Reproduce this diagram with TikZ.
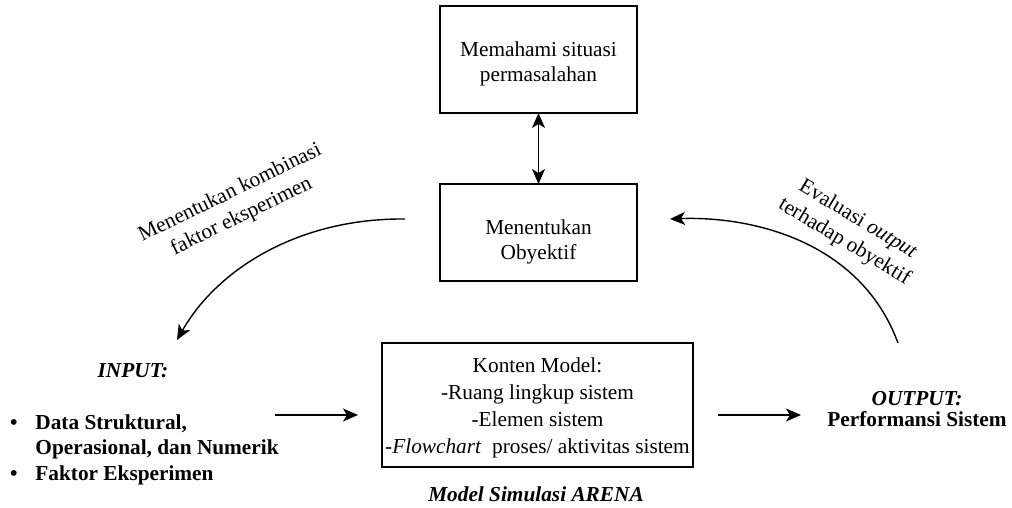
\documentclass[tikz,border=0pt]{standalone}
\usepackage{fontspec}
\setmainfont{Liberation Serif}
\usetikzlibrary{arrows.meta}
% centred block of lines with extra room on top, so it sits lower in its box
\newcommand\lowertext[2]{\raisebox{0pt}[\dimexpr\height+#1\relax][\depth]{%
  \begin{tabular}{@{}c@{}}#2\end{tabular}}}
\begin{document}
\begin{tikzpicture}[x=1pt,y=-1pt,
  every node/.style={inner sep=0pt, outer sep=0pt},
  txt/.style={font=\fontsize{21.3}{25}\selectfont, align=center},
  stepbox/.style={draw, line width=1.4pt, txt},
  tip/.style={},
  arr/.style={line width=1.4pt, -{Stealth[length=15pt,width=13pt,inset=4pt]}},
  biarr/.style={line width=1.4pt, {Stealth[length=15pt,width=13pt,inset=4pt]}-{Stealth[length=15pt,width=13pt,inset=4pt]}},
]
\useasboundingbox (0,0) rectangle (1012,508);

% process boxes
\node[stepbox, minimum width=197pt, minimum height=107pt] (situasi) at (538.5,59.5)
  {\lowertext{10pt}{Memahami situasi\\permasalahan}};
\node[stepbox, minimum width=197pt, minimum height=97pt] (obyektif) at (538.5,232.5)
  {\lowertext{18pt}{Menentukan\\Obyektif}};
\node[stepbox, minimum width=311pt, minimum height=124pt,
      font=\fontsize{21.3}{27}\selectfont] (model) at (537.5,405)
  {\lowertext{5pt}{Konten Model:\\-Ruang lingkup sistem\\-Elemen sistem\\
   -\textit{Flowchart}\ \ proses/ aktivitas sistem}};
\node[txt, font=\fontsize{21.3}{25}\selectfont\bfseries\itshape, anchor=base]
  (arena) at (536,501) {Model Simulasi ARENA};

% input side
\node[txt, font=\fontsize{21.3}{25}\selectfont\bfseries\itshape, anchor=base]
  (input) at (133,377) {INPUT:};
\node[font=\fontsize{21.3}{25.5}\selectfont\bfseries, anchor=base west] (inlist) at (10,429)
  {\begin{tabular}[t]{@{}l@{\hspace{18pt}}l@{}}
     \textbullet & Data Struktural,\\
                 & Operasional, dan Numerik\\
     \textbullet & Faktor Eksperimen
   \end{tabular}};

% output side
\node[txt, font=\fontsize{21.3}{21}\selectfont\bfseries, anchor=base] (output) at (917,426)
  {\textit{OUTPUT:}\\Performansi Sistem};

% curve labels
\node[txt, font=\fontsize{21.3}{26}\selectfont, rotate=26] (lblkombinasi) at (236,205)
  {Menentukan kombinasi\\faktor eksperimen};
\node[txt, font=\fontsize{21.3}{26}\selectfont, rotate=-31] (lblevaluasi) at (851,231)
  {Evaluasi \textit{output}\\terhadap obyektif};

% connector end points
\coordinate (kombStart) at (405,219);
\coordinate (kombEnd) at (177,340);
\coordinate (evalStart) at (898,343);
\coordinate (evalEnd) at (670,219);
\coordinate (inArrow) at (275,415);
\coordinate (inTip) at (358,415);
\coordinate (outArrow) at (718,415);
\coordinate (outTip) at (801,415);

% connectors
\draw[biarr] (situasi.south) -- (obyektif.north);
\draw[arr] (kombStart) .. controls (300,218) and (218,268) .. (kombEnd);
\draw[arr] (evalStart) .. controls (860,240) and (750,216) .. (evalEnd);
\draw[arr] (inArrow) -- (inTip);
\draw[arr] (outArrow) -- (outTip);
\end{tikzpicture}
\end{document}
